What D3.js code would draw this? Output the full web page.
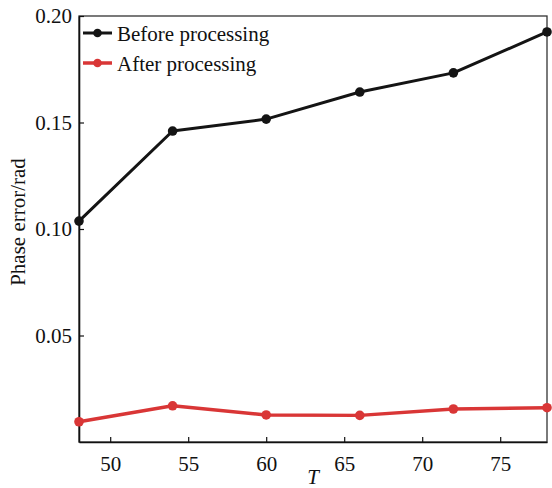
<!DOCTYPE html>
<html><head><meta charset="utf-8">
<script src="https://cdn.jsdelivr.net/npm/d3@7"></script>
<style>body{margin:0;background:#fff}svg{display:block}text{font-family:"Liberation Serif","DejaVu Serif",serif;fill:#111}</style>
</head><body><svg id="c" width="552" height="488"></svg>
<script>
const tValues = [48, 54, 60, 66, 72, 78];
const beforeValues = [0.1037, 0.146, 0.1516, 0.1643, 0.1733, 0.1925];
const afterValues = [0.0095, 0.0170, 0.0127, 0.0125, 0.0155, 0.0161];
const seriesNames = ["Before processing", "After processing"];
const xTicks = [50, 55, 60, 65, 70, 75];
const yTicks = [0.05, 0.10, 0.15, 0.20];

const FONT = "Liberation Serif, DejaVu Serif, serif";
const svg = d3.select("#c");
const L = 79, R = 547, T = 16, B = 442;
const x = d3.scaleLinear().domain([48, 78]).range([L, R]);
const y = d3.scaleLinear().domain([0, 0.2]).range([B, T]);

// frame
svg.append("rect").attr("x", L).attr("y", T).attr("width", R - L).attr("height", B - T)
  .attr("fill", "none").attr("stroke", "#333").attr("stroke-width", 1.3);

const xAxis = svg.append("g").attr("transform", `translate(0,${B})`)
  .call(d3.axisBottom(x).tickValues(xTicks).tickFormat(d3.format("d")).tickSizeInner(-5).tickSizeOuter(0).tickPadding(14));
const yAxis = svg.append("g").attr("transform", `translate(${L},0)`)
  .call(d3.axisLeft(y).tickValues(yTicks).tickFormat(d3.format(".2f")).tickSizeInner(-5).tickSizeOuter(0).tickPadding(7));
[xAxis, yAxis].forEach(g => {
  g.attr("font-family", FONT).attr("font-size", 21);
  g.select(".domain").attr("stroke", "#111").attr("stroke-width", 1.6);
  g.selectAll(".tick line").attr("stroke", "#111").attr("stroke-width", 1.2);
  g.selectAll(".tick text").attr("fill", "#111").style("font-family", FONT);
});

svg.append("text").attr("x", 313).attr("y", 484).attr("text-anchor", "middle")
  .attr("font-size", 21).attr("font-style", "italic").text("T");
svg.append("text").attr("transform", "translate(25,222) rotate(-90)").attr("text-anchor", "middle")
  .attr("font-size", 21).text("Phase error/rad");

const series = [
  {name: seriesNames[0], values: beforeValues, color: "#141414", w: 3},
  {name: seriesNames[1], values: afterValues, color: "#d93636", w: 3.5}
];
const line = d3.line().x((d, i) => x(tValues[i])).y(d => y(d));
series.forEach(s => {
  svg.append("path").datum(s.values).attr("d", line).attr("fill", "none")
    .attr("stroke", s.color).attr("stroke-width", s.w).attr("stroke-linejoin", "round");
  svg.selectAll(null).data(s.values).enter().append("circle")
    .attr("cx", (d, i) => x(tValues[i])).attr("cy", d => y(d)).attr("r", 4.8).attr("fill", s.color);
});

// legend
series.forEach((s, i) => {
  const cy = 33 + i * 30;
  svg.append("line").attr("x1", 83).attr("x2", 112).attr("y1", cy).attr("y2", cy)
    .attr("stroke", s.color).attr("stroke-width", s.w);
  svg.append("circle").attr("cx", 97.5).attr("cy", cy).attr("r", 4.3).attr("fill", s.color);
  svg.append("text").attr("x", 117).attr("y", cy + 8).attr("font-size", 21).text(s.name);
});
</script></body></html>
